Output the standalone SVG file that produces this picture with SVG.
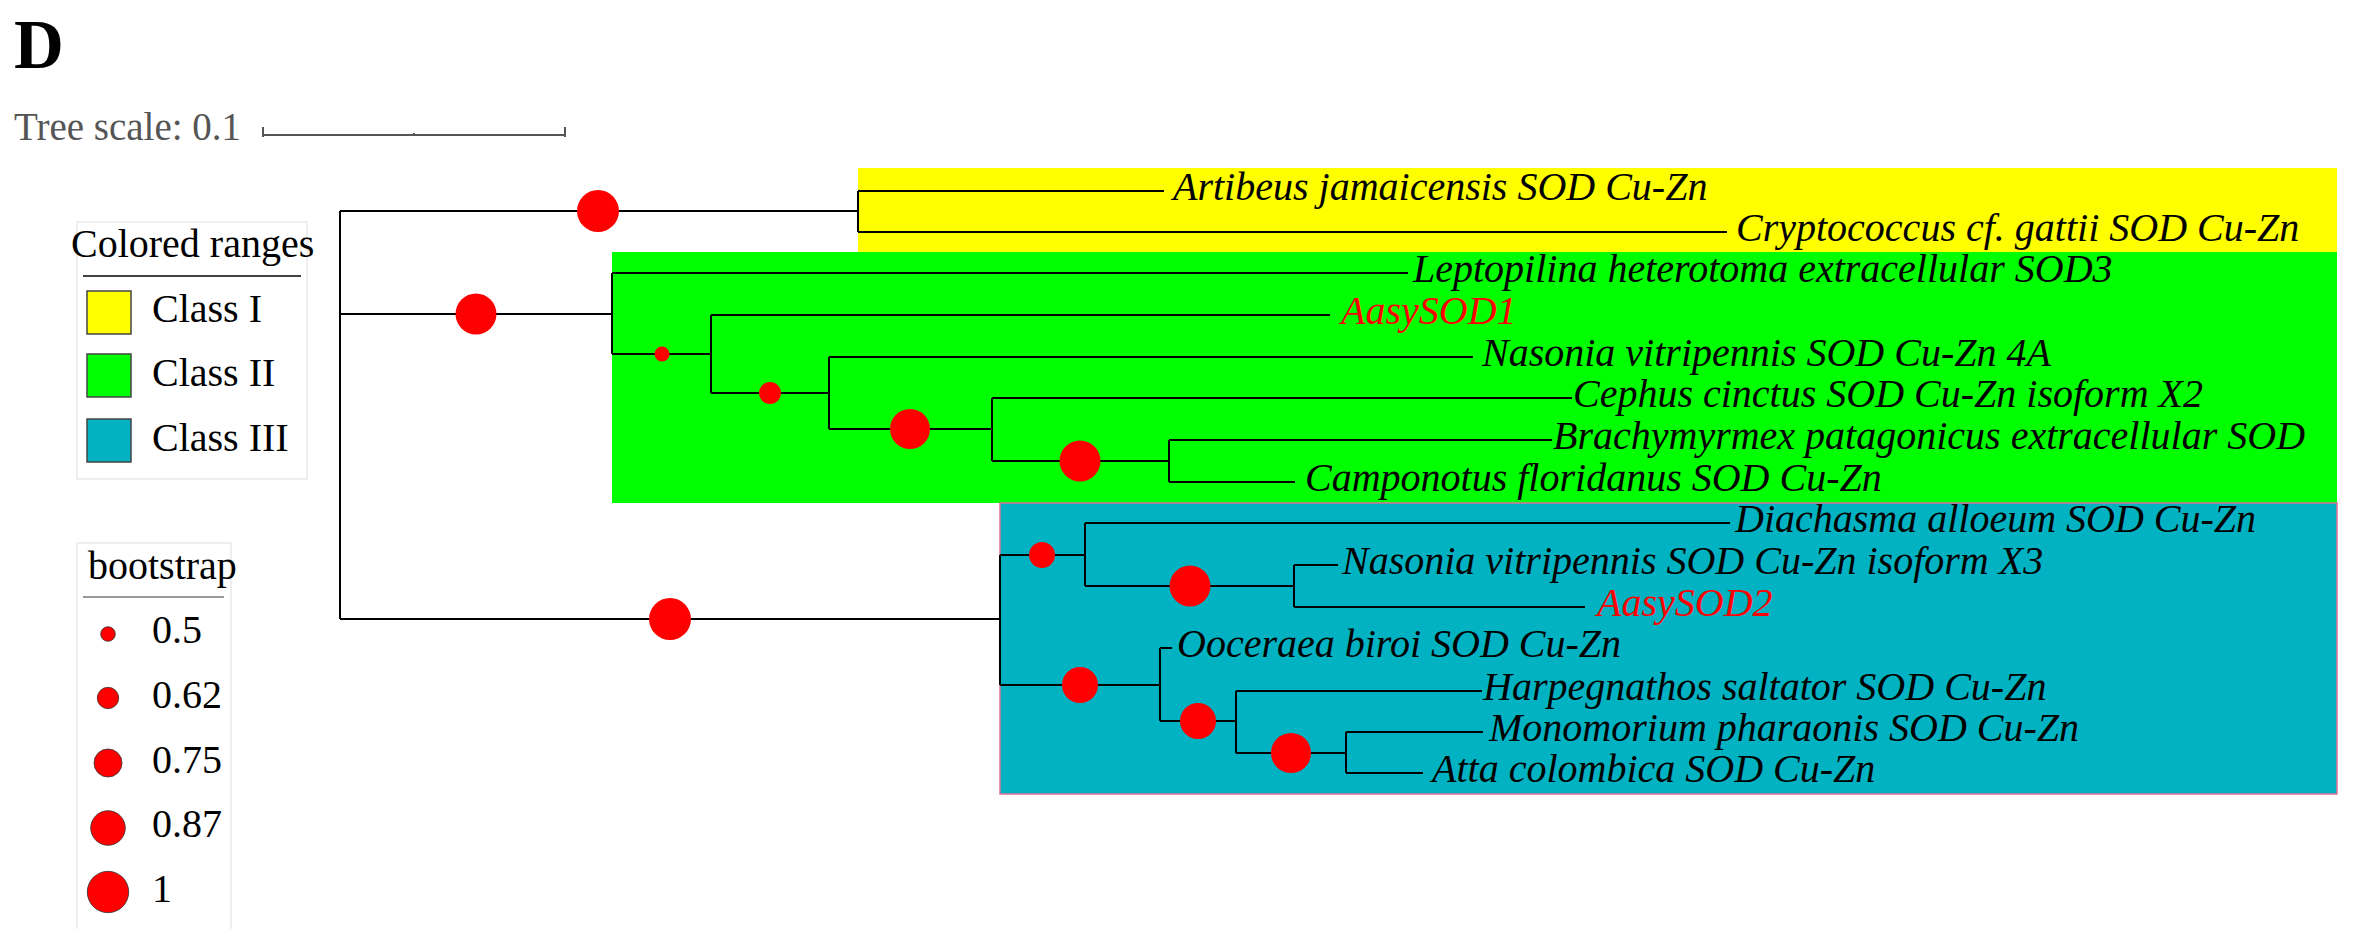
<svg xmlns="http://www.w3.org/2000/svg" width="2357" height="929" viewBox="0 0 2357 929">
<style>
.leaf{font-family:"Liberation Serif","Times New Roman",serif;font-style:italic;font-size:40px;fill:#000}
.red{fill:#ff0000}
.leg{font-family:"Liberation Serif","Times New Roman",serif;font-size:40px;fill:#000}
.edge{fill:none;stroke:#000;stroke-width:2}
.bs{fill:#ff0000}
.lbs{fill:#ff0000;stroke:#333;stroke-width:0.8}
.sw{stroke:#444;stroke-width:1.5}
</style>
<rect width="2357" height="929" fill="#fff"/>
<text x="14" y="68" font-family="Liberation Serif, serif" font-weight="bold" font-size="69">D</text>
<g id="scale">
<text x="14" y="140" font-family="Liberation Serif, serif" font-size="39" fill="#555">Tree scale: 0.1</text>
<path d="M263 135 H565 M263 127 V137 M565 127 V137 M414 133 V135" stroke="#555" stroke-width="2" fill="none"/>
</g>
<g id="ranges">
<rect x="858" y="168" width="1479" height="84" fill="#ffff00"/>
<rect x="612" y="252" width="1725" height="251" fill="#00ff00"/>
<rect x="1000" y="503" width="1337" height="291" fill="#00b2c2" stroke="#e0709a" stroke-width="1.5"/>
</g>
<g id="legend-ranges">
<rect x="77" y="222" width="230" height="257" fill="#fff" stroke="#eaeaea" stroke-width="1.5"/>
<text class="leg" x="71" y="257">Colored ranges</text>
<line x1="83" y1="276" x2="301" y2="276" stroke="#000" stroke-width="1.5"/>
<rect class="sw" x="87" y="291" width="44" height="43" fill="#ffff00"/>
<text class="leg" x="152" y="322">Class I</text>
<rect class="sw" x="87" y="354" width="44" height="43" fill="#00ff00"/>
<text class="leg" x="152" y="386">Class II</text>
<rect class="sw" x="87" y="419" width="44" height="43" fill="#00b2c2"/>
<text class="leg" x="152" y="451">Class III</text>
</g>
<g id="legend-bootstrap">
<rect x="77" y="543" width="154" height="400" fill="#fff" stroke="#eaeaea" stroke-width="1.5"/>
<text class="leg" x="88" y="579">bootstrap</text>
<line x1="83" y1="597" x2="224" y2="597" stroke="#777" stroke-width="1.5"/>
<circle class="lbs" cx="108" cy="634" r="7.3"/>
<text class="leg" x="152" y="643">0.5</text>
<circle class="lbs" cx="108" cy="698" r="10.7"/>
<text class="leg" x="152" y="708">0.62</text>
<circle class="lbs" cx="108" cy="763" r="14"/>
<text class="leg" x="152" y="773">0.75</text>
<circle class="lbs" cx="108" cy="828" r="17.3"/>
<text class="leg" x="152" y="837">0.87</text>
<circle class="lbs" cx="108" cy="892" r="20.7"/>
<text class="leg" x="152" y="902">1</text>
</g>
<g id="connectors">
<path class="edge" d="M340 211 V619 M340 211 H858 M858 191 V232 M858 191 H1164 M858 232 H1727"/>
<path class="edge" d="M340 314 H612 M612 273 V354 M612 273 H1408 M612 354 H711 M711 315 V393 M711 315 H1330 M711 393 H829 M829 357 V429 M829 357 H1473 M829 429 H992 M992 398 V461 M992 398 H1572 M992 461 H1169 M1169 440 V482 M1169 440 H1552 M1169 482 H1295"/>
<path class="edge" d="M340 619 H1000 M1000 555 V685 M1000 555 H1085 M1085 523 V586 M1085 523 H1730 M1085 586 H1294 M1294 565 V607 M1294 565 H1338 M1294 607 H1585 M1000 685 H1160 M1160 648 V721 M1160 648 H1172 M1160 721 H1236 M1236 691 V753 M1236 691 H1482 M1236 753 H1346 M1346 732 V773 M1346 732 H1483 M1346 773 H1423"/>
</g>
<g id="n-classI-root"><circle class="bs" cx="598" cy="211" r="21"/></g>
<g id="n-classII-root"><circle class="bs" cx="476" cy="314" r="20.5"/></g>
<g id="n-classII-a"><circle class="bs" cx="662" cy="354" r="7.5"/></g>
<g id="n-classII-b"><circle class="bs" cx="770" cy="393" r="11"/></g>
<g id="n-classII-c"><circle class="bs" cx="910" cy="429" r="20"/></g>
<g id="n-classII-d"><circle class="bs" cx="1080" cy="461" r="20.5"/></g>
<g id="n-classIII-root"><circle class="bs" cx="670" cy="619" r="21"/></g>
<g id="n-classIII-a"><circle class="bs" cx="1042" cy="555" r="13"/></g>
<g id="n-classIII-b"><circle class="bs" cx="1190" cy="586" r="20.5"/></g>
<g id="n-classIII-c"><circle class="bs" cx="1080" cy="685" r="18"/></g>
<g id="n-classIII-d"><circle class="bs" cx="1198" cy="721" r="18"/></g>
<g id="n-classIII-e"><circle class="bs" cx="1291" cy="753" r="20"/></g>
<g id="leaf-artibeus"><text class="leaf" x="1173" y="200">Artibeus jamaicensis SOD Cu-Zn</text></g>
<g id="leaf-cryptococcus"><text class="leaf" x="1736" y="241">Cryptococcus cf. gattii SOD Cu-Zn</text></g>
<g id="leaf-leptopilina"><text class="leaf" x="1413" y="282">Leptopilina heterotoma extracellular SOD3</text></g>
<g id="leaf-aasysod1"><text class="leaf red" x="1341" y="324">AasySOD1</text></g>
<g id="leaf-nasonia4a"><text class="leaf" x="1482" y="366">Nasonia vitripennis SOD Cu-Zn 4A</text></g>
<g id="leaf-cephus"><text class="leaf" x="1573" y="407">Cephus cinctus SOD Cu-Zn isoform X2</text></g>
<g id="leaf-brachymyrmex"><text class="leaf" x="1553" y="449">Brachymyrmex patagonicus extracellular SOD</text></g>
<g id="leaf-camponotus"><text class="leaf" x="1305" y="491">Camponotus floridanus SOD Cu-Zn</text></g>
<g id="leaf-diachasma"><text class="leaf" x="1735" y="532">Diachasma alloeum SOD Cu-Zn</text></g>
<g id="leaf-nasoniax3"><text class="leaf" x="1342" y="574">Nasonia vitripennis SOD Cu-Zn isoform X3</text></g>
<g id="leaf-aasysod2"><text class="leaf red" x="1597" y="616">AasySOD2</text></g>
<g id="leaf-ooceraea"><text class="leaf" x="1177" y="657">Ooceraea biroi SOD Cu-Zn</text></g>
<g id="leaf-harpegnathos"><text class="leaf" x="1483" y="700">Harpegnathos saltator SOD Cu-Zn</text></g>
<g id="leaf-monomorium"><text class="leaf" x="1489" y="741">Monomorium pharaonis SOD Cu-Zn</text></g>
<g id="leaf-atta"><text class="leaf" x="1432" y="782">Atta colombica SOD Cu-Zn</text></g>
</svg>
